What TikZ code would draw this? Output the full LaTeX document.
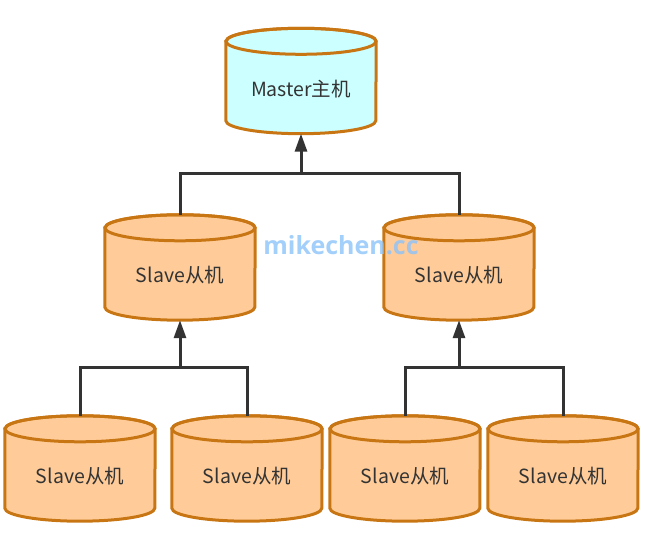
\documentclass[tikz,border=0pt]{standalone}
\usepackage{fontspec}
\setmainfont{Noto Sans CJK SC}
\newfontfamily\wmfont{Open Sans}
\usetikzlibrary{arrows.meta}
\definecolor{edgec}{RGB}{51,51,51}
\definecolor{cylline}{RGB}{200,118,20}
\definecolor{slavefill}{RGB}{255,204,153}
\definecolor{masterfill}{RGB}{204,255,255}
\definecolor{wm}{RGB}{140,195,250}
\tikzset{
  db/.style={rectangle, minimum width=150pt, minimum height=105pt, inner sep=0pt},
  lbl/.style={text=edgec, font=\fontsize{19.5}{22}\selectfont, inner sep=0pt},
  link/.style={draw=edgec, line width=3pt},
  arr/.style={link, -{Triangle[width=12pt,length=18pt]}},
  cylborder/.style={draw=cylline, line width=3pt},
}
\newcommand\cylshape[2]{%
  \path[cylborder, fill=#2]
    ([yshift=-13pt]#1.north west) -- ([yshift=13pt]#1.south west)
    arc[start angle=180, end angle=360, x radius=75pt, y radius=13pt]
    -- ([yshift=-13pt]#1.north east)
    arc[start angle=0, end angle=180, x radius=75pt, y radius=13pt] -- cycle;
  \draw[cylborder] ([yshift=-13pt]#1.north) ellipse[x radius=75pt, y radius=13pt];
}
\begin{document}
\begin{tikzpicture}[x=1pt, y=1pt]
\useasboundingbox (0,0) rectangle (664,534);
% shape nodes
\node[db] (m)  at (301,453) {};
\node[db] (l)  at (180,266.5) {};
\node[db] (r)  at (459,266.5) {};
\node[db] (b1) at (80,65.5) {};
\node[db] (b2) at (247,65.5) {};
\node[db] (b3) at (405,65.5) {};
\node[db] (b4) at (563,65.5) {};
% cylinders
\cylshape{m}{masterfill}
\cylshape{l}{slavefill}
\cylshape{r}{slavefill}
\cylshape{b1}{slavefill}
\cylshape{b2}{slavefill}
\cylshape{b3}{slavefill}
\cylshape{b4}{slavefill}
% labels
\node[lbl] (mt)  at ([yshift=-8pt]m.center)  {Master主机};
\node[lbl] (lt)  at ([yshift=-8pt]l.center)  {Slave从机};
\node[lbl] (rt)  at ([yshift=-8pt]r.center)  {Slave从机};
\node[lbl] (b1t) at ([yshift=-8pt]b1.center) {Slave从机};
\node[lbl] (b2t) at ([yshift=-8pt]b2.center) {Slave从机};
\node[lbl] (b3t) at ([yshift=-8pt]b3.center) {Slave从机};
\node[lbl] (b4t) at ([yshift=-8pt]b4.center) {Slave从机};
% connectors
\coordinate (j1) at (301,360);
\coordinate (j2) at (180,166);
\coordinate (j3) at (459,166);
\draw[link] (l.north) |- (j1) -| (r.north);
\draw[arr] (j1) -- (m.south);
\draw[link] (b1.north) |- (j2) -| (b2.north);
\draw[arr] (j2) -- (l.south);
\draw[link] (b3.north) |- (j3) -| (b4.north);
\draw[arr] (j3) -- (r.south);
% watermark
\node[text=wm, opacity=0.8, font=\wmfont\bfseries\fontsize{25}{30}\selectfont, inner sep=0pt] (wmk) at (341,289) {mikechen.cc};
\end{tikzpicture}
\end{document}
